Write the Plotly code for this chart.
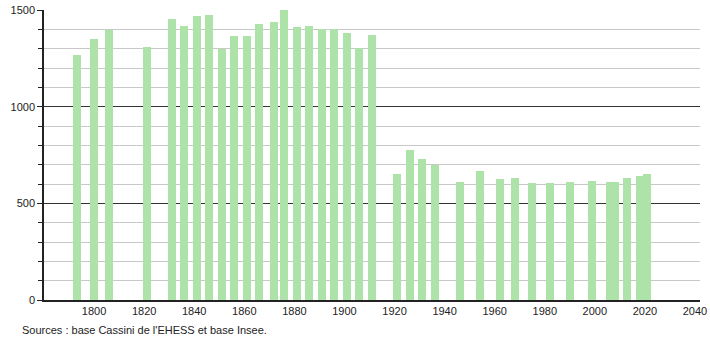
import plotly.graph_objects as go

years = [1793, 1800, 1806, 1821, 1831, 1836, 1841, 1846, 1851, 1856,
         1861, 1866, 1872, 1876, 1881, 1886, 1891, 1896, 1901, 1906,
         1911, 1921, 1926, 1931, 1936, 1946, 1954, 1962, 1968, 1975,
         1982, 1990, 1999, 2006, 2008, 2013, 2018, 2021]
population = [1268, 1350, 1395, 1309, 1454, 1419, 1471, 1476, 1298, 1367,
              1367, 1428, 1438, 1500, 1414, 1419, 1402, 1402, 1383, 1302,
              1373, 652, 776, 729, 698, 610, 667, 626, 631, 604,
              607, 610, 616, 610, 610, 631, 641, 652]
x_ticks = list(range(1800, 2041, 20))
source_text = "Sources : base Cassini de l'EHESS et base Insee."

fig = go.Figure()
fig.add_trace(go.Bar(
    x=years, y=population, width=3.2,
    marker=dict(color="#ade3a9", line=dict(width=0)),
    hoverinfo="x+y",
))

fig.update_layout(
    width=710, height=340,
    margin=dict(l=44, r=10, t=10, b=40, autoexpand=False),
    plot_bgcolor="white", paper_bgcolor="white",
    showlegend=False,
    font=dict(family="Liberation Sans, Arial, sans-serif", size=11, color="#222"),
    bargap=0,
    annotations=[dict(
        text=source_text, xref="paper", yref="paper",
        x=-0.037, y=-0.103, xanchor="left", yanchor="middle",
        showarrow=False, font=dict(size=11, color="#222"),
    )],
)
fig.update_xaxes(
    range=[1780, 2042], tickvals=x_ticks, ticks="", showgrid=False,
    showline=True, linecolor="#222", linewidth=1.5, zeroline=False,
    tickfont=dict(size=11), automargin=False,
)
fig.update_yaxes(
    range=[0, 1500], dtick=500, tick0=0,
    showgrid=True, gridcolor="#333", gridwidth=1,
    ticks="outside", ticklen=5, tickcolor="#222",
    showline=True, linecolor="#222", linewidth=1.5, zeroline=False,
    tickfont=dict(size=11), automargin=False,
    minor=dict(dtick=100, showgrid=True, gridcolor="#c8c8c8", gridwidth=1,
               ticks="outside", ticklen=4, tickcolor="#222"),
)

fig.write_html("out.html")
